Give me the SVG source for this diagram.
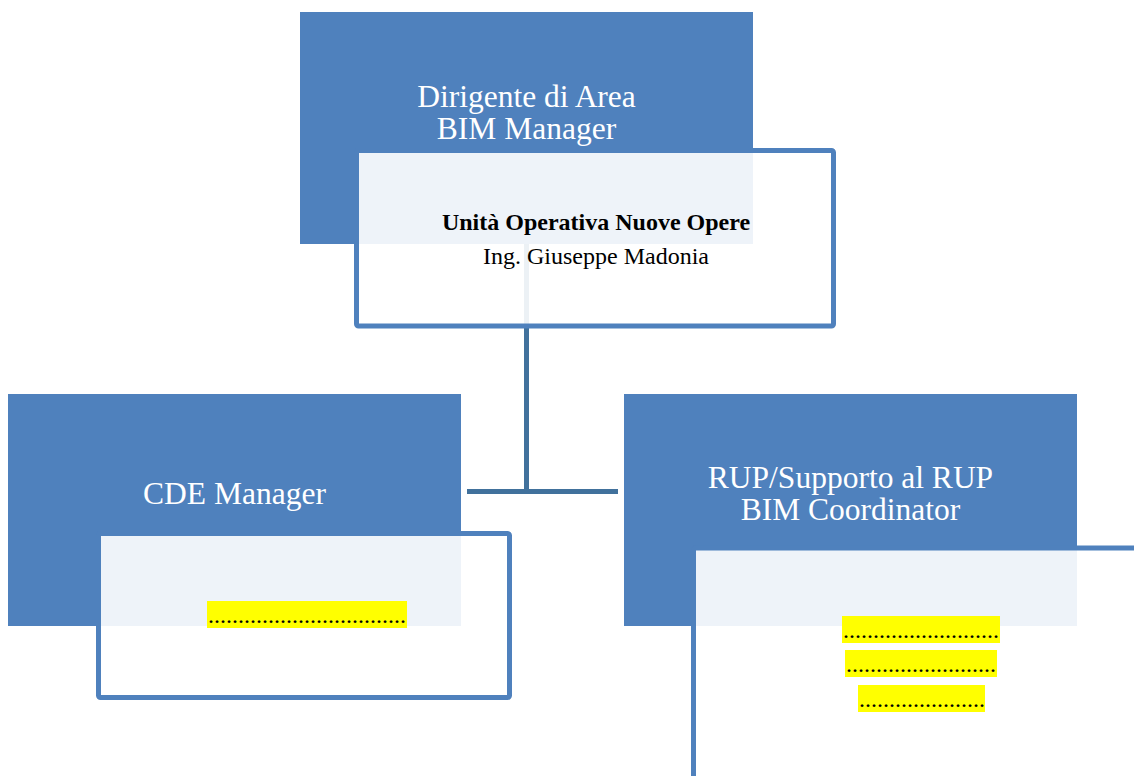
<svg xmlns="http://www.w3.org/2000/svg" width="1134" height="776" viewBox="0 0 1134 776">
<style>
.role{fill:#4F81BD}
.box{fill:#FFFFFF;fill-opacity:0.9;stroke:#4F81BD;stroke-width:5}
.conn{stroke:#41719C;stroke-width:5;fill:none}
.h{font-family:"Liberation Serif","Times New Roman",serif;font-size:31.5px;fill:#FFFFFF;text-anchor:middle}
.t{font-family:"Liberation Serif","Times New Roman",serif;font-size:24px;fill:#000000;text-anchor:middle}
.b{font-weight:bold}
.d{font-family:"Liberation Serif","Times New Roman",serif;font-size:24px;fill:#000000}
.hl{fill:#FFFF00}
</style>
<rect width="1134" height="776" fill="#FFFFFF"/>
<g id="connectors">
<path class="conn" d="M526.5 244 V491.5"/>
<path class="conn" d="M467 491.5 H618"/>
</g>
<g id="node-dirigente">
<rect class="role" x="300" y="12" width="453" height="232"/>
<text class="h" x="526.5" y="107">Dirigente di Area</text>
<text class="h" x="526.5" y="139">BIM Manager</text>
<rect class="box" x="356.5" y="150.5" width="477" height="175.5" rx="2"/>
<text class="t b" x="596" y="230">Unità Operativa Nuove Opere</text>
<text class="t" x="596" y="264">Ing. Giuseppe Madonia</text>
</g>
<g id="node-cde">
<rect class="role" x="8" y="394" width="453" height="232"/>
<text class="h" x="234.5" y="504">CDE Manager</text>
<rect class="box" x="98.5" y="533.5" width="411" height="164" rx="2"/>
<rect class="hl" x="207" y="601" width="200" height="27"/>
<text class="d" x="208" y="623">.................................</text>
</g>
<g id="node-rup">
<rect class="role" x="624" y="394" width="453" height="232"/>
<text class="h" x="850.5" y="488">RUP/Supporto al RUP</text>
<text class="h" x="850.5" y="520">BIM Coordinator</text>
<rect class="box" x="693.5" y="548" width="480" height="260" rx="2"/>
<rect class="hl" x="842" y="616" width="158" height="27"/>
<text class="d" x="843" y="638">..........................</text>
<rect class="hl" x="845" y="650" width="152" height="27"/>
<text class="d" x="846" y="672">.........................</text>
<rect class="hl" x="858" y="685" width="127" height="27"/>
<text class="d" x="859" y="707">.....................</text>
</g>
</svg>
